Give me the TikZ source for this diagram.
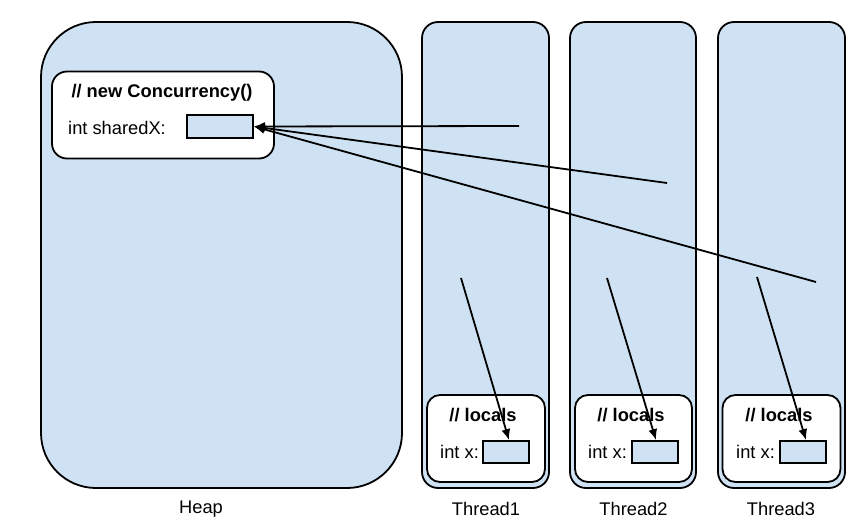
\documentclass[tikz,border=0pt]{standalone}
\usepackage{fontspec}
\setmainfont{Liberation Sans}
\usetikzlibrary{arrows.meta}
\definecolor{memblue}{HTML}{CFE2F3}
\tikzset{
	membox/.style={shape=rectangle, draw, line width=1.8pt, fill=memblue},
	framebox/.style={shape=rectangle, draw, line width=1.8pt, fill=white},
	cellbox/.style={shape=rectangle, draw, line width=1.8pt, fill=memblue, inner sep=0pt},
	txt/.style={inner sep=0pt},
	ref/.style={-{Latex[length=11pt,width=9pt]}, line width=1.8pt}
}
\begin{document}
\begin{tikzpicture}[x=1pt, y=-1pt, font=\fontsize{18.3}{21}\selectfont]
			\useasboundingbox (0,0) rectangle (864,529);
			
			\node (heap)[membox, rounded corners=55pt, minimum width=361pt, minimum height=466pt] 
			at (221.5,255) {};
			
			\node (thr1)[membox, rounded corners=16pt, minimum width=127pt, minimum height=466pt] 
			at (485.5,255) {};
			
			\node (thr2)[membox, rounded corners=16pt, minimum width=126pt, minimum height=466pt] 
			at (633,255) {};
			
			\node (thr3)[membox, rounded corners=16pt, minimum width=127pt, minimum height=466pt] 
			at (781.5,255) {};
			
			\node (obj)[framebox, rounded corners=15pt, minimum width=222pt, minimum height=87pt] 
			at (163,115) {};
			\node (objtitle)[txt] at (162,93) {\textbf{// new Concurrency()}};
			\node (sharedlbl)[txt, anchor=west] at (68,128) {int sharedX:};
			\node (shared)[cellbox, minimum width=66pt, minimum height=23pt] at (220,126.5) {};
			
			\node (loc1)[framebox, rounded corners=13pt, minimum width=118pt, minimum height=87pt] 
			at (486,438.5) {};
			\node (loctitle1)[txt] at (483,415) {\textbf{// locals}};
			\node (xlbl1)[txt, anchor=west] at (440,452) {int x:};
			\node (x1)[cellbox, minimum width=46pt, minimum height=22pt] at (506,452) {};
			
			\node (loc2)[framebox, rounded corners=13pt, minimum width=117pt, minimum height=87pt] 
			at (633.5,438.5) {};
			\node (loctitle2)[txt] at (631,415) {\textbf{// locals}};
			\node (xlbl2)[txt, anchor=west] at (588,452) {int x:};
			\node (x2)[cellbox, minimum width=46pt, minimum height=22pt] at (655,452) {};
			
			\node (loc3)[framebox, rounded corners=13pt, minimum width=118pt, minimum height=87pt] 
			at (781.5,438.5) {};
			\node (loctitle3)[txt] at (779,415) {\textbf{// locals}};
			\node (xlbl3)[txt, anchor=west] at (736,452) {int x:};
			\node (x3)[cellbox, minimum width=46pt, minimum height=22pt] at (803,452) {};
			
			\node (heaplbl)[txt] at (201,509) {Heap};
			\node (thrlbl1)[txt] at (486,509) {Thread1};
			\node (thrlbl2)[txt] at (633.5,509) {Thread2};
			\node (thrlbl3)[txt] at (781,509) {Thread3};
			
			\coordinate (src1) at (519,126);
			\coordinate (src2) at (667,183);
			\coordinate (src3) at (816,282);
			\coordinate (loc1src) at (461,278);
			\coordinate (loc2src) at (607,278);
			\coordinate (loc3src) at (757,277);
			
			\draw[ref] (src1) -- (shared.east);
			\draw[ref] (src2) -- (shared.east);
			\draw[ref] (src3) -- (shared.east);
			\draw[ref] (loc1src) -- ([xshift=3pt]x1.north);
			\draw[ref] (loc2src) -- ([xshift=1pt]x2.north);
			\draw[ref] (loc3src) -- ([xshift=3pt]x3.north);
\end{tikzpicture}
\end{document}
